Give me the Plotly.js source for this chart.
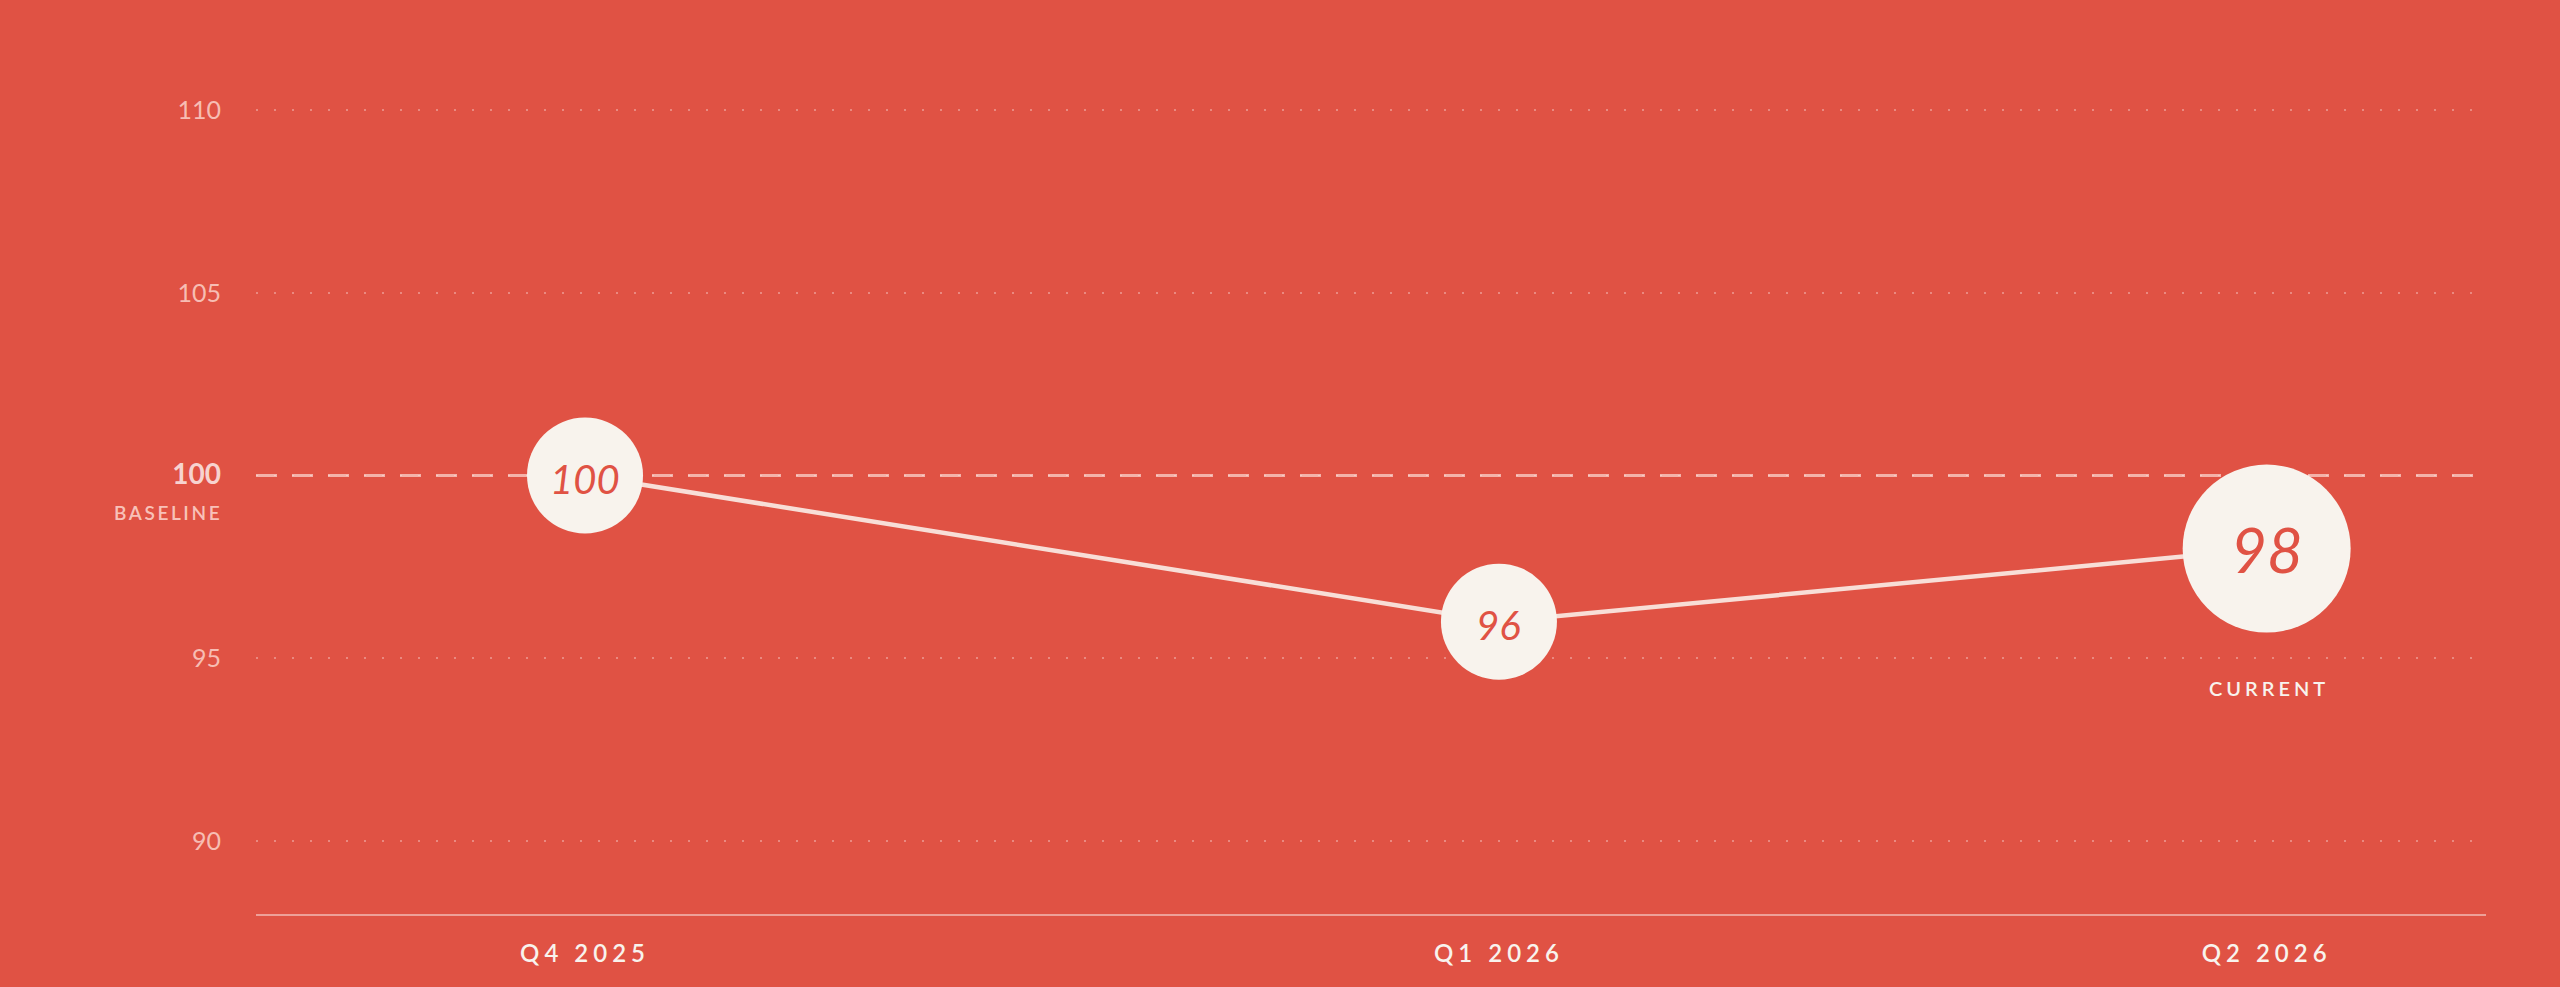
<!DOCTYPE html>
<html>
<head>
<meta charset="utf-8">
<script src="https://cdn.plot.ly/plotly-3.0.1.min.js"></script>
<style>
  html, body { margin: 0; padding: 0; background: #E05244; }
  #chart { width: 2560px; height: 987px; }
  .xtick text { letter-spacing: 5px; }
</style>
</head>
<body>
<div id="chart"></div>
<script>
// data
var quarters = ["Q4 2025", "Q1 2026", "Q2 2026"];
var monthOffset = [0, 3, 5.52]; // months after start of Q4 2025
var scores = [100, 96, 98];
var baseline = 100;
var yTicks = [90, 95, 100, 105, 110];

var bg = "#E05244";
var cream = "#F8F3ED";
var labelSizes = [40, 40, 62];

var yTickText = yTicks.map(function (v) {
  if (v === baseline) {
    return "<span style='color:#FFFFFF;font-weight:bold;font-size:28px'>" + v + "</span>";
  }
  return String(v);
});

var trace = {
  x: monthOffset,
  y: scores,
  mode: "lines+markers",
  line: { color: "rgba(250,234,228,0.92)", width: 4.5 },
  marker: {
    size: [116, 116, 168],
    color: cream,
    line: { width: 0 },
    opacity: 1,
  },
  hoverinfo: "skip",
  cliponaxis: false,
};

// value labels sitting inside the circles
var valueLabels = scores.map(function (v, i) {
  return {
    text: String(v),
    xref: "x",
    yref: "y",
    x: monthOffset[i],
    y: v,
    xanchor: "center",
    yanchor: "middle",
    yshift: i === 2 ? 0 : -3,
    showarrow: false,
    font: { family: "Lato, sans-serif", size: labelSizes[i], color: bg, style: "italic" },
  };
});

var layout = {
  width: 2560,
  height: 987,
  paper_bgcolor: bg,
  plot_bgcolor: bg,
  showlegend: false,
  hovermode: false,
  margin: { l: 256, r: 74, t: 37, b: 73 },
  font: { family: "Lato, sans-serif", color: cream },
  xaxis: {
    range: [-1.08, 6.24],
    tickvals: monthOffset,
    ticktext: quarters,
    tickfont: { family: "Lato, sans-serif", size: 24, color: cream, weight: 600 },
    ticks: "",
    ticklabelstandoff: 17,
    showgrid: false,
    zeroline: false,
    showline: true,
    linecolor: "rgba(255,255,255,0.45)",
    linewidth: 2,
  },
  yaxis: {
    range: [88, 112],
    tickvals: yTicks,
    ticktext: yTickText,
    tickfont: { family: "Lato, sans-serif", size: 25, color: "rgba(255,225,218,0.75)" },
    ticks: "",
    ticklabelstandoff: 34,
    showgrid: true,
    gridcolor: "rgba(255,255,255,0.32)",
    gridwidth: 1.5,
    griddash: "2px,16px",
    zeroline: false,
    showline: false,
  },
  shapes: [
    {
      type: "line",
      xref: "paper",
      yref: "y",
      x0: 0,
      x1: 0.995,
      y0: baseline,
      y1: baseline,
      layer: "below",
      line: { color: "rgba(255,230,225,0.65)", width: 3, dash: "21px,15px" },
    },
  ],
  annotations: valueLabels.concat([
    {
      text: "<span style='letter-spacing:2.6px'>BASELINE</span>",
      xref: "paper",
      yref: "y",
      x: -0.0145,
      y: baseline,
      xanchor: "right",
      yanchor: "middle",
      yshift: -37,
      showarrow: false,
      font: { family: "Lato, sans-serif", size: 19, color: "rgba(255,225,218,0.8)", weight: 600 },
    },
    {
      text: "<span style='letter-spacing:4px'>CURRENT</span>",
      xref: "x",
      yref: "y",
      x: monthOffset[2],
      y: scores[2],
      xanchor: "center",
      yanchor: "middle",
      yshift: -139,
      xshift: 2,
      showarrow: false,
      font: { family: "Lato, sans-serif", size: 20, color: cream, weight: 600 },
    },
  ]),
};

Plotly.newPlot("chart", [trace], layout, { displayModeBar: false, staticPlot: true });
</script>
</body>
</html>
